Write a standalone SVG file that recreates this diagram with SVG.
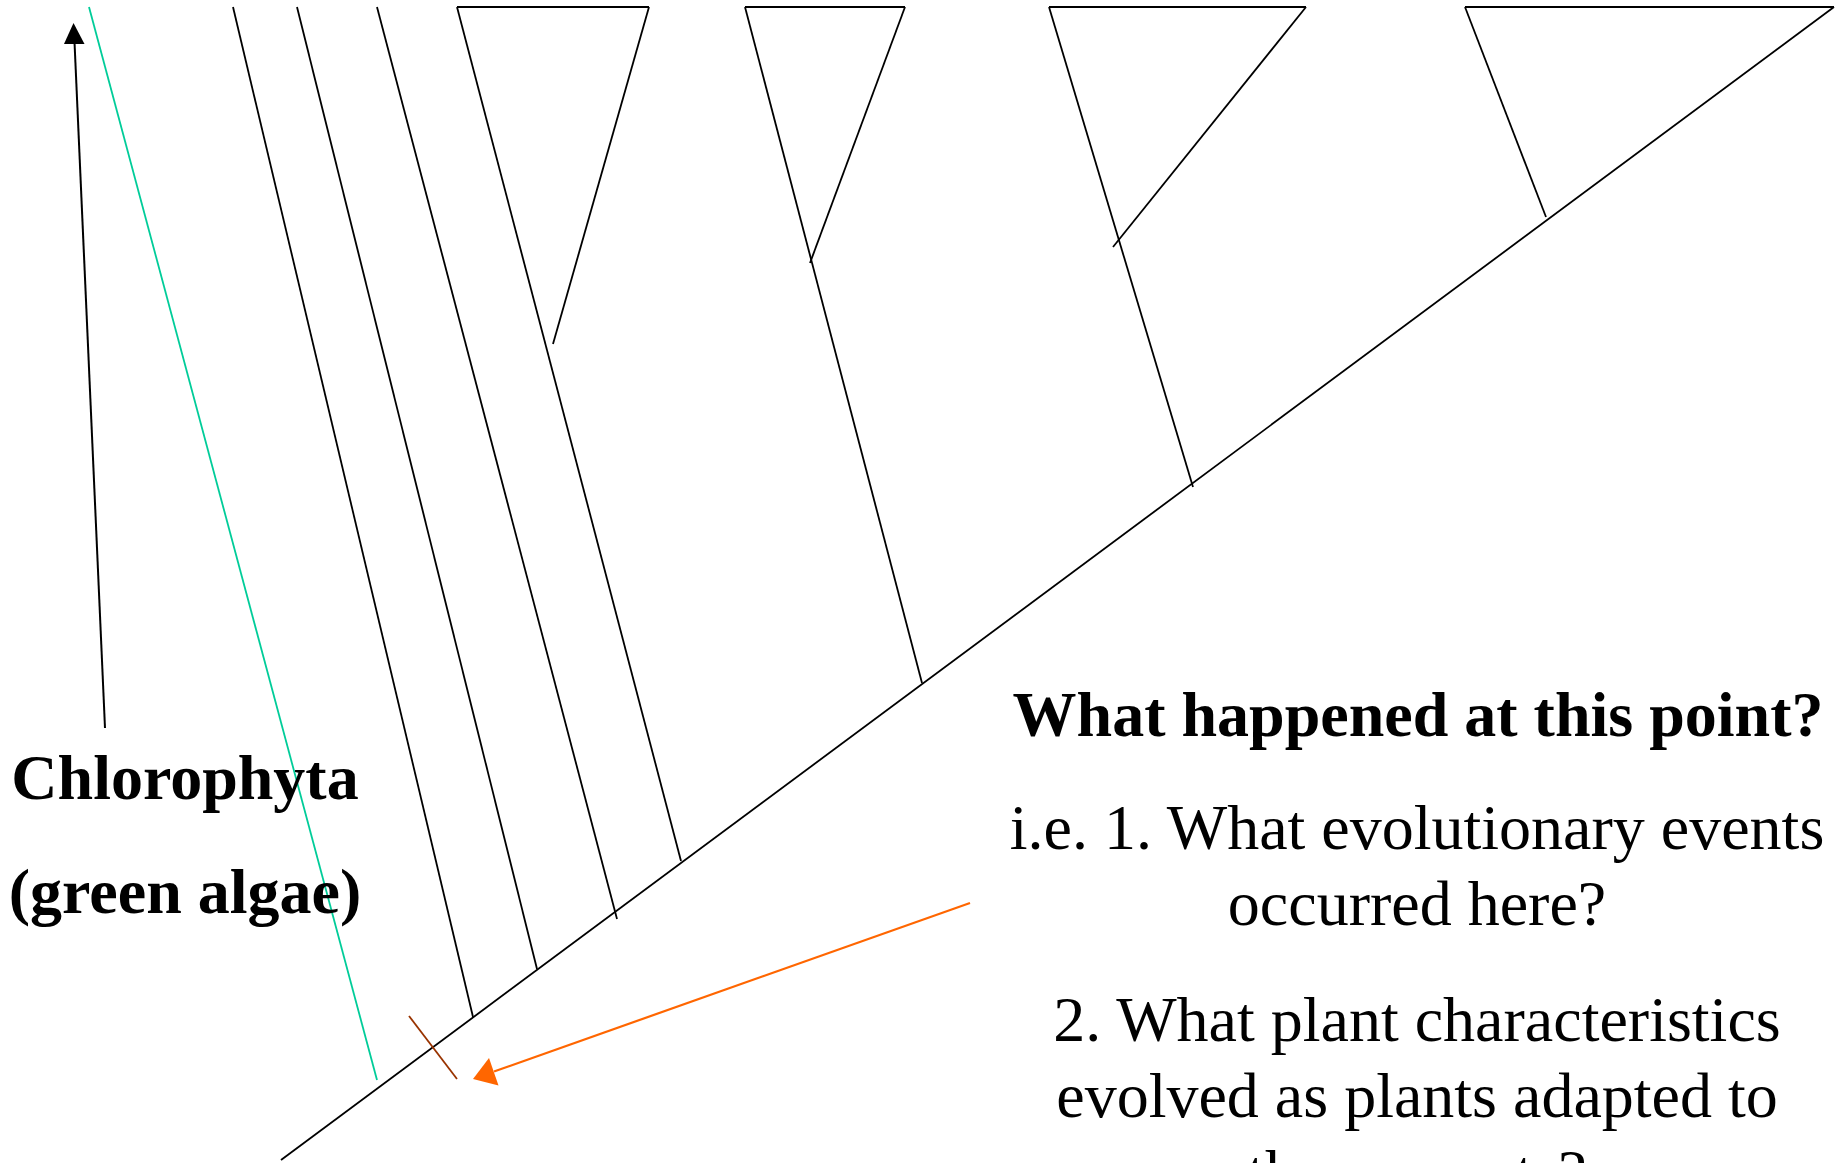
<svg xmlns="http://www.w3.org/2000/svg" width="1841" height="1163" viewBox="0 0 1841 1163">
  <style>
    .ln { stroke: #000; stroke-width: 1.8; fill: none; stroke-linecap: butt; }
    .top { stroke: #000; stroke-width: 2.2; fill: none; }
    .lbl { font-family: "Liberation Serif", "Times New Roman", serif; font-size: 64px; fill: #000; text-anchor: middle; }
    .b { font-weight: bold; }
  </style>
  <rect width="1841" height="1163" fill="#fff"/>

  <g id="connectors">
    <line id="trunk" class="ln" x1="281" y1="1160" x2="1834" y2="7"/>
    <line id="chlorophyta-branch" x1="89" y1="7" x2="377" y2="1080" stroke="#00CC99" stroke-width="1.8"/>
    <line id="branch-1" class="ln" x1="233" y1="7" x2="473" y2="1017"/>
    <line id="branch-2" class="ln" x1="297" y1="7" x2="537" y2="969"/>
    <line id="branch-3" class="ln" x1="377" y1="7" x2="617" y2="919"/>
    <line id="mark" x1="409" y1="1016" x2="457" y2="1079" stroke="#993300" stroke-width="1.8"/>
  </g>

  <g id="clade-1">
    <line class="ln" x1="457" y1="7" x2="681" y2="861"/>
    <line class="top" x1="457" y1="7" x2="649" y2="7"/>
    <line class="ln" x1="649" y1="7" x2="553" y2="344"/>
  </g>
  <g id="clade-2">
    <line class="ln" x1="745" y1="7" x2="922" y2="683"/>
    <line class="top" x1="745" y1="7" x2="905" y2="7"/>
    <line class="ln" x1="905" y1="7" x2="810" y2="263"/>
  </g>
  <g id="clade-3">
    <line class="ln" x1="1049" y1="7" x2="1193" y2="487"/>
    <line class="top" x1="1049" y1="7" x2="1306" y2="7"/>
    <line class="ln" x1="1306" y1="7" x2="1113" y2="247"/>
  </g>
  <g id="clade-4">
    <line class="ln" x1="1465" y1="7" x2="1546" y2="217"/>
    <line class="top" x1="1465" y1="7" x2="1834" y2="7"/>
  </g>

  <g id="chlorophyta-label">
    <line x1="105" y1="728" x2="74.5" y2="42" stroke="#000" stroke-width="2"/>
    <polygon points="73.5,23 64,44 84.5,44" fill="#000"/>
    <text class="lbl b" x="185" y="799">Chlorophyta</text>
    <text class="lbl b" x="185" y="913">(green algae)</text>
  </g>

  <g id="question-arrow">
    <line x1="970" y1="903" x2="494" y2="1071.5" stroke="#FF6600" stroke-width="2.2"/>
    <polygon points="473,1079 489,1058 498.5,1085.5" fill="#FF6600"/>
  </g>

  <g id="question-text">
    <text class="lbl b" x="1418" y="736">What happened at this point?</text>
    <text class="lbl" x="1417" y="849">i.e. 1. What evolutionary events</text>
    <text class="lbl" x="1417" y="925">occurred here?</text>
    <text class="lbl" x="1417" y="1041">2. What plant characteristics</text>
    <text class="lbl" x="1417" y="1117">evolved as plants adapted to</text>
    <text class="lbl" x="1417" y="1194">these events?</text>
  </g>
</svg>
